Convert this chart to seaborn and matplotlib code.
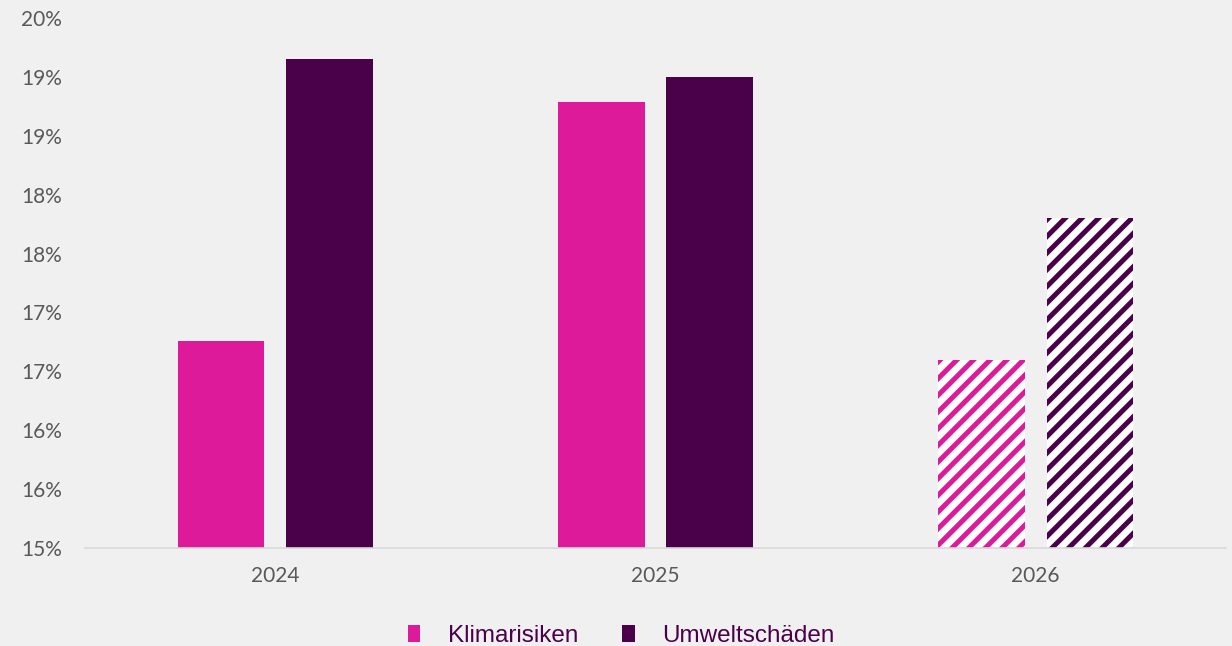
import math
import numpy as np
import pandas as pd
import matplotlib
matplotlib.use("Agg")
import matplotlib.pyplot as plt
import seaborn as sns
from matplotlib.ticker import MultipleLocator, FuncFormatter
from matplotlib.patches import Patch

years = ["2024", "2025", "2026"]
series = ["Klimarisiken", "Umweltschäden"]
klimarisiken = [16.76, 18.79, 16.60]
umweltschaeden = [19.15, 19.00, 17.80]
forecast_years = ["2026"]

colors = {"Klimarisiken": "#DC1A9A", "Umweltschäden": "#4B004A"}

df = pd.DataFrame({
    "Jahr": years * 2,
    "Serie": [series[0]] * len(years) + [series[1]] * len(years),
    "Wert": klimarisiken + umweltschaeden,
})

bg = "#F0F0F0"
plt.rcParams["hatch.linewidth"] = 3.6
fig = plt.figure(figsize=(12.32, 6.46), dpi=100, facecolor=bg)
ax = fig.add_axes([0.069, 0.1517, 0.926, 0.8204])
ax.set_facecolor(bg)

sns.barplot(data=df, x="Jahr", y="Wert", hue="Serie", order=years,
            hue_order=series, palette=colors, width=0.57, gap=0.2,
            saturation=1, legend=False, ax=ax)

# forecast bars: white with diagonal stripes
for cont, name in zip(ax.containers, series):
    for bar, yr in zip(cont, years):
        bar.set_linewidth(0)
        if yr in forecast_years:
            bar.set_facecolor("white")
            bar.set_edgecolor(colors[name])
            if hasattr(bar, "set_hatchcolor"):
                bar.set_hatchcolor(colors[name])
            bar.set_hatch("//")

ax.set_ylim(15, 19.5)
ax.set_xlim(-0.5, 2.5)
ax.yaxis.set_major_locator(MultipleLocator(0.5))
ax.yaxis.set_major_formatter(FuncFormatter(lambda v, p: f"{math.floor(v + 0.5 + 1e-9):d}%"))

for s in ["top", "right", "left"]:
    ax.spines[s].set_visible(False)
ax.spines["bottom"].set_color("#D9D9D9")
ax.spines["bottom"].set_linewidth(1.2)
ax.tick_params(axis="both", length=0, labelsize=15, labelcolor="#595959")
ax.tick_params(axis="x", pad=13)
ax.tick_params(axis="y", pad=16.5)
for lab in ax.get_xticklabels() + ax.get_yticklabels():
    lab.set_family("Lato")
ax.set_xlabel("")
ax.set_ylabel("")

handles = [Patch(facecolor=colors[s], edgecolor="none") for s in series]
leg = fig.legend(handles, series, loc="center", bbox_to_anchor=(0.5045, 0.016),
                 ncol=2, frameon=False, handlelength=0.5, handleheight=0.7,
                 handletextpad=1.15, columnspacing=1.8,
                 prop={"family": "Liberation Sans", "size": 17.5})
for t in leg.get_texts():
    t.set_color("#4B004A")

fig.savefig("out.png", dpi=100, facecolor=bg)
